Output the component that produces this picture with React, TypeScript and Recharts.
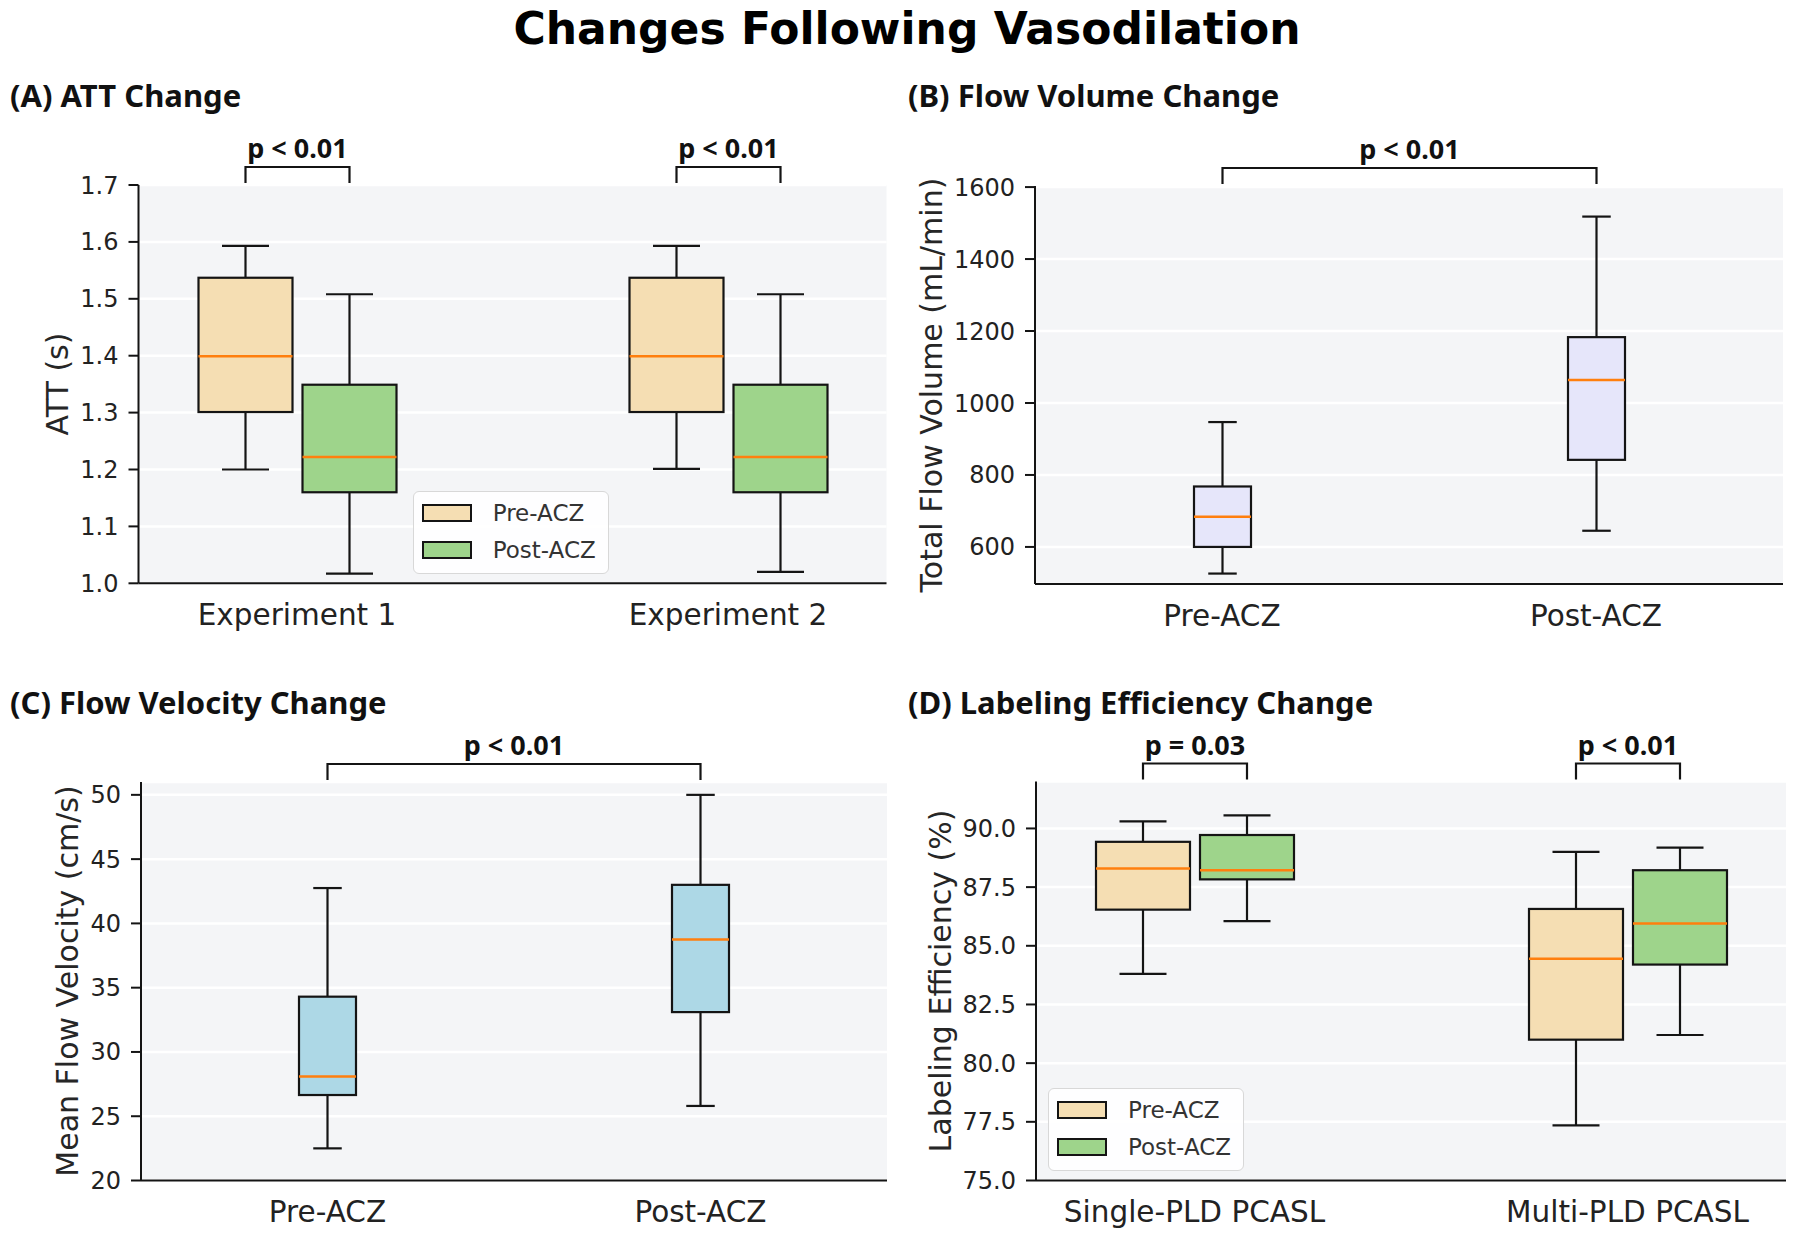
import { ComposedChart, Bar, XAxis, YAxis, CartesianGrid, Legend } from "recharts";

// box stats are [lower whisker, Q1, median, Q3, upper whisker]

// (A) ATT
const attGroups = ["Experiment 1", "Experiment 2"];
const attPre = [
  [1.2, 1.301, 1.399, 1.537, 1.593],
  [1.201, 1.301, 1.399, 1.537, 1.593],
];
const attPost = [
  [1.017, 1.16, 1.222, 1.349, 1.508],
  [1.02, 1.16, 1.222, 1.349, 1.508],
];
const attP = ["p < 0.01", "p < 0.01"];
const attTicks = [1.0, 1.1, 1.2, 1.3, 1.4, 1.5, 1.6, 1.7];

// (B) Flow volume
const flowGroups = ["Pre-ACZ", "Post-ACZ"];
const flowStats = [
  [526, 600, 684, 768, 947],
  [645, 842, 1064, 1183, 1518],
];
const flowP = "p < 0.01";
const flowTicks = [600, 800, 1000, 1200, 1400, 1600];

// (C) Flow velocity
const velGroups = ["Pre-ACZ", "Post-ACZ"];
const velStats = [
  [22.5, 26.65, 28.1, 34.3, 42.75],
  [25.8, 33.1, 38.75, 43.0, 50.0],
];
const velP = "p < 0.01";
const velTicks = [20, 25, 30, 35, 40, 45, 50];

// (D) Labeling efficiency
const labGroups = ["Single-PLD PCASL", "Multi-PLD PCASL"];
const labPre = [
  [83.8, 86.54, 88.29, 89.43, 90.3],
  [77.35, 81.0, 84.45, 86.57, 89.0],
];
const labPost = [
  [86.05, 87.83, 88.22, 89.72, 90.56],
  [81.2, 84.2, 85.95, 88.22, 89.18],
];
const labP = ["p = 0.03", "p < 0.01"];
const labTicks = [75, 77.5, 80, 82.5, 85, 87.5, 90];

const seriesNames = ["Pre-ACZ", "Post-ACZ"];

const attRows = attGroups.map((name, i) => ({ name, pre: attPre[i], post: attPost[i], p: attP[i] }));
const labRows = labGroups.map((name, i) => ({ name, pre: labPre[i], post: labPost[i], p: labP[i] }));
const flowRows = flowGroups.map((name, i) => ({ name, box: flowStats[i], p: i === 1 ? flowP : null }));
const velRows = velGroups.map((name, i) => ({ name, box: velStats[i], p: i === 1 ? velP : null }));

const INK = "#141414";
const PRE_FILL = "#F5DEB3";
const POST_FILL = "#9ED48B";
const tickFont = { fill: "#222", fontSize: 24, fontFamily: "DejaVu Sans" };
const xTickFont = { fill: "#222", fontSize: 29.5, fontFamily: "DejaVu Sans" };

// draws one box; the bar itself spans Q1..Q3 so its rect gives the y scale
function makeBox(statKey: string, yMax: number, span?: number) {
  return (props: any) => {
    const { x, y, width, height, payload } = props;
    const s = payload[statKey];
    const top = Math.min(y, y + height);
    const h = Math.abs(height);
    const ppu = h / (s[3] - s[1]);
    const py = (v: number) => top + (s[3] - v) * ppu;
    const cx = x + width / 2;
    const cap = width / 4;
    const showBracket = span != null && payload.p;
    const yTop = py(yMax);
    const x0 = cx - (span || 0);
    return (
      <g>
        <line x1={cx} x2={cx} y1={py(s[4])} y2={top} stroke={INK} strokeWidth={2.2} />
        <line x1={cx} x2={cx} y1={top + h} y2={py(s[0])} stroke={INK} strokeWidth={2.2} />
        <line x1={cx - cap} x2={cx + cap} y1={py(s[4])} y2={py(s[4])} stroke={INK} strokeWidth={2.2} />
        <line x1={cx - cap} x2={cx + cap} y1={py(s[0])} y2={py(s[0])} stroke={INK} strokeWidth={2.2} />
        <rect x={x} y={top} width={width} height={h} fill={props.fill} stroke={INK} strokeWidth={2.2} />
        <line x1={x} x2={x + width} y1={py(s[2])} y2={py(s[2])} stroke="#FF7F0E" strokeWidth={2.5} />
        {showBracket && (
          <g>
            <path
              d={`M${x0},${yTop - 2} V${yTop - 18} H${cx} V${yTop - 2}`}
              fill="none"
              stroke={INK}
              strokeWidth={2.2}
            />
            <text
              x={(x0 + cx) / 2}
              y={yTop - 27}
              textAnchor="middle"
              fontFamily="Noto Sans"
              fontWeight={700}
              fontSize={27}
              fill="#111"
            >
              {payload.p}
            </text>
          </g>
        )}
      </g>
    );
  };
}

const legendBox = ({ payload }: any) => {
  const items = [...(payload || [])].sort(
    (a: any, b: any) => seriesNames.indexOf(a.value) - seriesNames.indexOf(b.value)
  );
  return (
    <div
      style={{
        background: "rgba(255,255,255,0.9)",
        border: "1.5px solid #d8d8d8",
        borderRadius: 6,
        padding: "3px 12px 5px 8px",
      }}
    >
      {items.map((e: any) => (
        <div key={e.value} style={{ display: "flex", alignItems: "center", height: 36.6 }}>
          <span
            style={{ display: "inline-block", width: 46, height: 14, background: e.color, border: `2px solid ${INK}` }}
          />
          <span style={{ marginLeft: 21, fontFamily: "DejaVu Sans", fontSize: 23, color: "#333" }}>{e.value}</span>
        </div>
      ))}
    </div>
  );
};

function Grid() {
  return <CartesianGrid vertical={false} stroke="#ffffff" strokeWidth={2.5} fill="#F4F5F7" fillOpacity={1} />;
}

const axisLine = { stroke: INK, strokeWidth: 2 };

export default function App() {
  return (
    <div style={{ position: "absolute", left: 0, top: 0, width: 1800, height: 1237, background: "#fff", overflow: "hidden" }}>
      {/* (A) */}
      <div style={{ position: "absolute", left: 0, top: 100 }}>
        <ComposedChart width={900} height={560} data={attRows} margin={{ top: 85, right: 13.5, bottom: 16.7, left: 58.5 }} barGap={10}>
          {Grid()}
          <XAxis dataKey="name" height={60} padding={{ left: -57, right: -57 }} axisLine={axisLine} tickLine={false} tickSize={0} tickMargin={21} tick={xTickFont} />
          <YAxis type="number" domain={[1.0, 1.7]} ticks={attTicks} tickFormatter={(v: number) => v.toFixed(1)} width={80} axisLine={axisLine} tickLine={axisLine} tickSize={10} tickMargin={10} tick={tickFont} />
          <Bar name="Pre-ACZ" dataKey={(r: any) => [r.pre[1], r.pre[3]]} fill={PRE_FILL} barSize={94} shape={makeBox("pre", 1.7)} isAnimationActive={false} />
          <Bar name="Post-ACZ" dataKey={(r: any) => [r.post[1], r.post[3]]} fill={POST_FILL} barSize={94} shape={makeBox("post", 1.7, 104)} isAnimationActive={false} />
          <Legend content={legendBox} layout="horizontal" verticalAlign="middle" align="center" wrapperStyle={{ left: 412.7, top: 390.7, width: "auto", height: "auto" }} />
        </ComposedChart>
      </div>

      {/* (B) */}
      <div style={{ position: "absolute", left: 900, top: 100 }}>
        <ComposedChart width={900} height={560} data={flowRows} margin={{ top: 86, right: 17, bottom: 16, left: 55 }}>
          {Grid()}
          <XAxis dataKey="name" height={60} axisLine={axisLine} tickLine={false} tickSize={0} tickMargin={21} tick={xTickFont} />
          <YAxis type="number" domain={[497, 1603]} ticks={flowTicks} width={80} axisLine={axisLine} tickLine={axisLine} tickSize={10} tickMargin={10} tick={tickFont} />
          <Bar dataKey={(r: any) => [r.box[1], r.box[3]]} fill="#E6E6FA" barSize={57} shape={makeBox("box", 1603, 374)} isAnimationActive={false} />
        </ComposedChart>
      </div>

      {/* (C) */}
      <div style={{ position: "absolute", left: 0, top: 690 }}>
        <ComposedChart width={900} height={547} data={velRows} margin={{ top: 92, right: 13, bottom: 6.5, left: 61 }}>
          {Grid()}
          <XAxis dataKey="name" height={50} axisLine={axisLine} tickLine={false} tickSize={0} tickMargin={21} tick={xTickFont} />
          <YAxis type="number" domain={[20, 51]} ticks={velTicks} width={80} axisLine={axisLine} tickLine={axisLine} tickSize={10} tickMargin={10} tick={tickFont} />
          <Bar dataKey={(r: any) => [r.box[1], r.box[3]]} fill="#ADD8E6" barSize={57} shape={makeBox("box", 51, 373)} isAnimationActive={false} />
        </ComposedChart>
      </div>

      {/* (D) */}
      <div style={{ position: "absolute", left: 900, top: 690 }}>
        <ComposedChart width={900} height={547} data={labRows} margin={{ top: 91.5, right: 14, bottom: 6.5, left: 56 }} barGap={10}>
          {Grid()}
          <XAxis dataKey="name" height={50} padding={{ left: -58, right: -58 }} axisLine={axisLine} tickLine={false} tickSize={0} tickMargin={21} tick={xTickFont} />
          <YAxis type="number" domain={[75, 92]} ticks={labTicks} tickFormatter={(v: number) => v.toFixed(1)} width={80} axisLine={axisLine} tickLine={axisLine} tickSize={10} tickMargin={10} tick={tickFont} />
          <Bar name="Pre-ACZ" dataKey={(r: any) => [r.pre[1], r.pre[3]]} fill={PRE_FILL} barSize={94} shape={makeBox("pre", 92)} isAnimationActive={false} />
          <Bar name="Post-ACZ" dataKey={(r: any) => [r.post[1], r.post[3]]} fill={POST_FILL} barSize={94} shape={makeBox("post", 92, 104)} isAnimationActive={false} />
          <Legend content={legendBox} layout="horizontal" verticalAlign="middle" align="center" wrapperStyle={{ left: 148, top: 397.8, width: "auto", height: "auto" }} />
        </ComposedChart>
      </div>

      {/* titles and axis labels */}
      <svg width={1800} height={1237} style={{ position: "absolute", left: 0, top: 0, pointerEvents: "none" }}>
        <text x={907} y={43.5} textAnchor="middle" fontFamily="DejaVu Sans" fontWeight={700} fontSize={44} fill="#000">
          Changes Following Vasodilation
        </text>
        <g fontFamily="Noto Sans" fontWeight={700} fontSize={31} fill="#111">
          <text x={10} y={107}>(A) ATT Change</text>
          <text x={908} y={107}>(B) Flow Volume Change</text>
          <text x={10} y={714}>(C) Flow Velocity Change</text>
          <text x={908} y={714}>(D) Labeling Efficiency Change</text>
        </g>
        <g fontFamily="DejaVu Sans" fontSize={30} fill="#262626" textAnchor="middle" dominantBaseline="central">
          <text transform="translate(57,384) rotate(-90)">ATT (s)</text>
          <text transform="translate(931.5,385) rotate(-90)">Total Flow Volume (mL/min)</text>
          <text transform="translate(67.5,981) rotate(-90)">Mean Flow Velocity (cm/s)</text>
          <text transform="translate(940,981) rotate(-90)">Labeling Efficiency (%)</text>
        </g>
      </svg>
    </div>
  );
}
